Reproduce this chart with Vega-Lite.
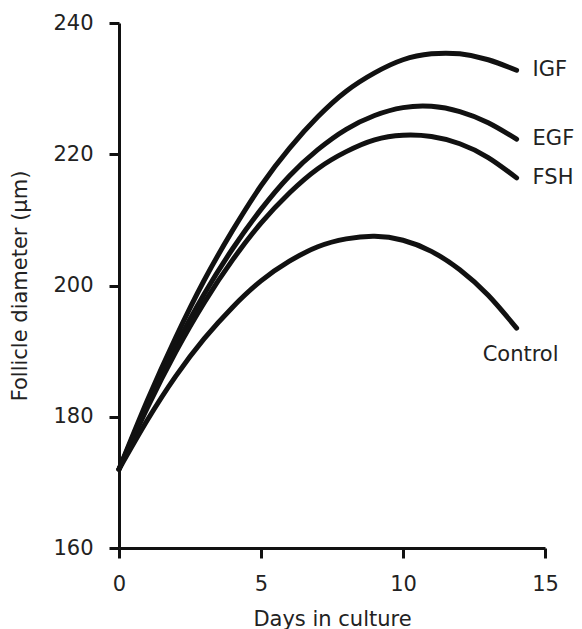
{
  "$schema": "https://vega.github.io/schema/vega-lite/v6.json",
  "width": 426,
  "height": 525,
  "autosize": "none",
  "padding": {"left": 119, "top": 23, "right": 37, "bottom": 81},
  "background": "white",
  "config": {
    "view": {"stroke": null},
    "font": "DejaVu Sans",
    "axis": {
      "grid": false,
      "domainColor": "#111",
      "domainWidth": 3,
      "tickColor": "#111",
      "tickWidth": 3,
      "tickSize": 10,
      "labelFont": "DejaVu Sans",
      "labelFontSize": 21,
      "labelColor": "#222",
      "labelFlush": false,
      "titleFont": "DejaVu Sans",
      "titleFontSize": 21,
      "titleFontWeight": "normal",
      "titleColor": "#222"
    }
  },
  "data": {
    "values": [
      {"day": 0, "series": "IGF", "diameter": 172},
      {"day": 1, "series": "IGF", "diameter": 182.5},
      {"day": 2, "series": "IGF", "diameter": 192.1},
      {"day": 3, "series": "IGF", "diameter": 200.8},
      {"day": 4, "series": "IGF", "diameter": 208.4},
      {"day": 5, "series": "IGF", "diameter": 215.2},
      {"day": 6, "series": "IGF", "diameter": 220.9},
      {"day": 7, "series": "IGF", "diameter": 225.7},
      {"day": 8, "series": "IGF", "diameter": 229.6},
      {"day": 9, "series": "IGF", "diameter": 232.4},
      {"day": 10, "series": "IGF", "diameter": 234.4},
      {"day": 11, "series": "IGF", "diameter": 235.3},
      {"day": 12, "series": "IGF", "diameter": 235.3},
      {"day": 13, "series": "IGF", "diameter": 234.4},
      {"day": 14, "series": "IGF", "diameter": 232.8},
      {"day": 0, "series": "EGF", "diameter": 172},
      {"day": 1, "series": "EGF", "diameter": 181.9},
      {"day": 2, "series": "EGF", "diameter": 190.8},
      {"day": 3, "series": "EGF", "diameter": 198.7},
      {"day": 4, "series": "EGF", "diameter": 205.6},
      {"day": 5, "series": "EGF", "diameter": 211.6},
      {"day": 6, "series": "EGF", "diameter": 216.7},
      {"day": 7, "series": "EGF", "diameter": 220.7},
      {"day": 8, "series": "EGF", "diameter": 223.8},
      {"day": 9, "series": "EGF", "diameter": 225.9},
      {"day": 10, "series": "EGF", "diameter": 227.1},
      {"day": 11, "series": "EGF", "diameter": 227.3},
      {"day": 12, "series": "EGF", "diameter": 226.5},
      {"day": 13, "series": "EGF", "diameter": 224.8},
      {"day": 14, "series": "EGF", "diameter": 222.3},
      {"day": 0, "series": "FSH", "diameter": 172},
      {"day": 1, "series": "FSH", "diameter": 181.4},
      {"day": 2, "series": "FSH", "diameter": 189.9},
      {"day": 3, "series": "FSH", "diameter": 197.4},
      {"day": 4, "series": "FSH", "diameter": 203.9},
      {"day": 5, "series": "FSH", "diameter": 209.5},
      {"day": 6, "series": "FSH", "diameter": 214.1},
      {"day": 7, "series": "FSH", "diameter": 217.8},
      {"day": 8, "series": "FSH", "diameter": 220.4},
      {"day": 9, "series": "FSH", "diameter": 222.2},
      {"day": 10, "series": "FSH", "diameter": 222.9},
      {"day": 11, "series": "FSH", "diameter": 222.7},
      {"day": 12, "series": "FSH", "diameter": 221.6},
      {"day": 13, "series": "FSH", "diameter": 219.5},
      {"day": 14, "series": "FSH", "diameter": 216.4},
      {"day": 0, "series": "Control", "diameter": 172},
      {"day": 1, "series": "Control", "diameter": 179.5},
      {"day": 2, "series": "Control", "diameter": 186.2},
      {"day": 3, "series": "Control", "diameter": 191.9},
      {"day": 4, "series": "Control", "diameter": 196.7},
      {"day": 5, "series": "Control", "diameter": 200.7},
      {"day": 6, "series": "Control", "diameter": 203.7},
      {"day": 7, "series": "Control", "diameter": 205.9},
      {"day": 8, "series": "Control", "diameter": 207.1},
      {"day": 9, "series": "Control", "diameter": 207.5},
      {"day": 10, "series": "Control", "diameter": 206.9},
      {"day": 11, "series": "Control", "diameter": 205.2},
      {"day": 12, "series": "Control", "diameter": 202.4},
      {"day": 13, "series": "Control", "diameter": 198.5},
      {"day": 14, "series": "Control", "diameter": 193.5}
    ]
  },
  "layer": [
    {
      "mark": {"type": "line", "interpolate": "natural", "strokeWidth": 5, "color": "#111", "strokeCap": "round"},
      "encoding": {
        "x": {
          "field": "day", "type": "quantitative",
          "scale": {"domain": [0, 15], "nice": false},
          "axis": {"values": [0, 5, 10, 15], "title": "Days in culture", "labelPadding": 15, "titlePadding": 14}
        },
        "y": {
          "field": "diameter", "type": "quantitative",
          "scale": {"domain": [160, 240], "nice": false, "zero": false},
          "axis": {"values": [160, 180, 200, 220, 240], "title": "Follicle diameter (µm)", "labelPadding": 16, "titlePadding": 22}
        },
        "detail": {"field": "series"}
      }
    },
    {
      "transform": [{"filter": "datum.day == 14 && datum.series != 'Control'"}],
      "mark": {"type": "text", "align": "left", "baseline": "middle", "dx": 16, "fontSize": 21, "color": "#222", "font": "DejaVu Sans"},
      "encoding": {
        "x": {"field": "day", "type": "quantitative"},
        "y": {"field": "diameter", "type": "quantitative"},
        "text": {"field": "series"}
      }
    },
    {
      "transform": [{"filter": "datum.day == 14 && datum.series == 'Control'"}],
      "mark": {"type": "text", "align": "center", "baseline": "middle", "dx": 4, "dy": 27, "fontSize": 21, "color": "#222", "font": "DejaVu Sans"},
      "encoding": {
        "x": {"field": "day", "type": "quantitative"},
        "y": {"field": "diameter", "type": "quantitative"},
        "text": {"field": "series"}
      }
    }
  ]
}
